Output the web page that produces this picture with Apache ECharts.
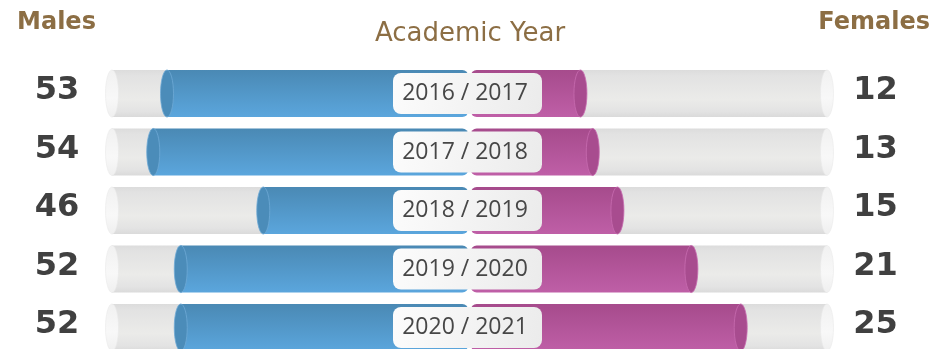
<!DOCTYPE html>
<html>
<head>
<meta charset="utf-8">
<script src="https://cdn.jsdelivr.net/npm/echarts@6/dist/echarts.min.js"></script>
<style>
  html, body { margin: 0; padding: 0; background: #ffffff; }
  #chart { width: 938px; height: 349px; }
</style>
</head>
<body>
<div id="chart"></div>
<script>
// Enrolment by academic year, split by sex
const years   = ['2016 / 2017', '2017 / 2018', '2018 / 2019', '2019 / 2020', '2020 / 2021'];
const males   = [53, 54, 46, 52, 52];
const females = [12, 13, 15, 21, 25];

// value range of each half (axis start sits at the centre line)
const maleRange   = [31, 57];
const femaleRange = [3, 32];

const CENTER = 469.5;   // centre line between the two halves
const HALF   = 357.5;   // length of one half track
const TOP    = 64.25;
const ROW    = 58.5;

const chart = echarts.init(document.getElementById('chart'));
const G = echarts.graphic;

function trackFill() {
  return new G.LinearGradient(0, 0, 0, 1, [
    { offset: 0, color: '#dcdcdc' },
    { offset: 0.12, color: '#e2e2e2' },
    { offset: 0.62, color: '#ebebe9' },
    { offset: 0.88, color: '#e3e3e3' },
    { offset: 1, color: '#dadada' }
  ]);
}

function cylinder(side, range, topColor, bottomColor, capColor, capStroke, numberOffset) {
  return function (params, api) {
    const v = api.value(0);
    const i = api.value(1);
    const end = api.coord([v, i]);
    const base = api.coord([range[0], i]);
    const far = api.coord([range[1], i]);
    const band = api.size([0, 1])[1];
    const h = band * 0.805;
    const cy = end[1];
    const top = cy - h / 2;
    const rx = 6.5, ry = h / 2;
    const inner = base[0] + side * 1.2;

    const tx0 = Math.min(far[0], end[0]), tx1 = Math.max(far[0], end[0]);
    const bx0 = Math.min(inner, end[0]), bx1 = Math.max(inner, end[0]);

    return {
      type: 'group',
      children: [
        { type: 'rect', shape: { x: tx0, y: top, width: tx1 - tx0, height: h },
          style: { fill: trackFill() } },
        { type: 'ellipse', shape: { cx: far[0], cy: cy, rx: rx, ry: ry },
          style: { fill: new G.LinearGradient(0, 0, 0, 1, [
            { offset: 0, color: '#f1f1f1' }, { offset: 0.6, color: '#f8f8f8' }, { offset: 1, color: '#efefef' }
          ]), stroke: '#e9e9e9', lineWidth: 0.6 } },
        { type: 'rect',
          shape: { x: bx0, y: top, width: bx1 - bx0, height: h, r: side < 0 ? [0, 6, 6, 0] : [6, 0, 0, 6] },
          style: { fill: new G.LinearGradient(0, 0, 0, 1, [
            { offset: 0, color: topColor }, { offset: 1, color: bottomColor }
          ]) } },
        { type: 'ellipse', shape: { cx: end[0], cy: cy, rx: rx, ry: ry },
          style: { fill: capColor, stroke: capStroke, lineWidth: 0.8 } },
        { type: 'text', x: far[0] + side * numberOffset, y: cy - 2.5,
          style: { text: String(v), fill: '#404040', font: 'bold 32px "DejaVu Sans"',
                   align: 'center', verticalAlign: 'middle' } }
      ]
    };
  };
}

function yearTag(params, api) {
  const c = api.coord([api.value(0), api.value(1)]);
  const h = 41, w = 149;
  return {
    type: 'group',
    children: [
      { type: 'rect', shape: { x: c[0] - 2 - w / 2, y: c[1] - h / 2, width: w, height: h, r: 8 },
        style: { fill: new G.LinearGradient(0, 0, 1, 1, [
          { offset: 0, color: '#fcfcfc' }, { offset: 1, color: '#ebebeb' }
        ]) } },
      { type: 'text', x: c[0] - 4.5, y: c[1],
        style: { text: years[params.dataIndex], fill: '#474747', font: '23px "Open Sans"',
                 align: 'center', verticalAlign: 'middle' } }
    ]
  };
}

const headerColor = '#8c6e44';

chart.setOption({
  animation: false,
  grid: [
    { left: CENTER - HALF, top: TOP, width: HALF, height: ROW * 5, outerBoundsMode: 'none' },
    { left: CENTER, top: TOP, width: HALF, height: ROW * 5, outerBoundsMode: 'none' }
  ],
  xAxis: [
    { gridIndex: 0, type: 'value', min: maleRange[0], max: maleRange[1], inverse: true, show: false },
    { gridIndex: 1, type: 'value', min: femaleRange[0], max: femaleRange[1], show: false }
  ],
  yAxis: [
    { gridIndex: 0, type: 'category', data: years, inverse: true, show: false },
    { gridIndex: 1, type: 'category', data: years, inverse: true, show: false }
  ],
  graphic: [
    { type: 'text', x: 56.5, y: 23, style: { text: 'Males', fill: headerColor,
      font: 'bold 24px "DejaVu Sans"', align: 'center', verticalAlign: 'middle',
      textAlign: 'center', textVerticalAlign: 'middle' } },
    { type: 'text', x: 930, y: 23, style: { text: 'Females', fill: headerColor,
      font: 'bold 24px "DejaVu Sans"', align: 'right', verticalAlign: 'middle',
      textAlign: 'right', textVerticalAlign: 'middle' } },
    { type: 'text', x: 470, y: 34, style: { text: 'Academic Year', fill: headerColor,
      font: '26px "DejaVu Sans"', align: 'center', verticalAlign: 'middle',
      textAlign: 'center', textVerticalAlign: 'middle' } }
  ],
  series: [
    {
      name: 'Males', type: 'custom', xAxisIndex: 0, yAxisIndex: 0,
      encode: { x: 0, y: 1 },
      data: males.map((v, i) => [v, years[i]]),
      renderItem: cylinder(-1, maleRange, '#4a89b4', '#5ba6dd', '#4b8cb9', '#6eaad5', 55),
      z: 2
    },
    {
      name: 'Females', type: 'custom', xAxisIndex: 1, yAxisIndex: 1,
      encode: { x: 0, y: 1 },
      data: females.map((v, i) => [v, years[i]]),
      renderItem: cylinder(1, femaleRange, '#a64b8c', '#bf5fa7', '#a84c8f', '#c86cb0', 48.5),
      z: 2
    },
    {
      name: 'Academic Year', type: 'custom', xAxisIndex: 0, yAxisIndex: 0,
      encode: { x: 0, y: 1 },
      data: years.map(y => [maleRange[0], y]),
      renderItem: yearTag,
      z: 5
    }
  ]
});
</script>
</body>
</html>
